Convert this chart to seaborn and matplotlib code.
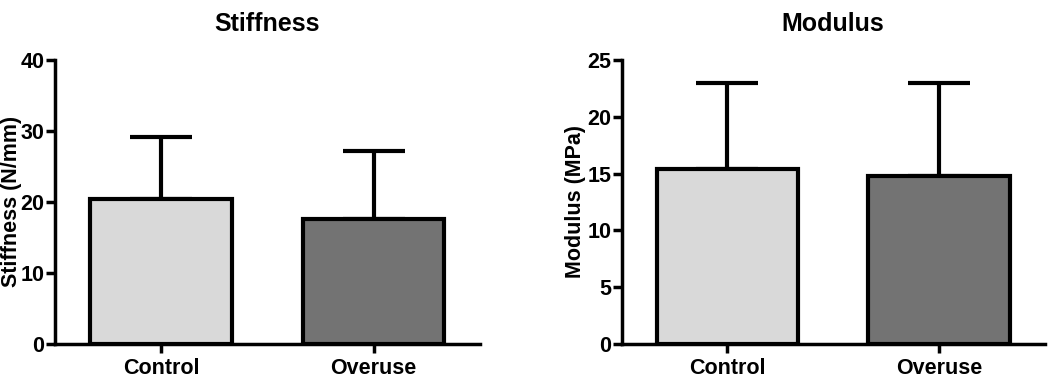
import matplotlib
matplotlib.use("Agg")
import matplotlib.pyplot as plt
import seaborn as sns
import pandas as pd

# Data
groups = ["Control", "Overuse"]
stiffness_mean = [20.4, 17.6]
stiffness_sd = [8.7, 9.5]
modulus_mean = [15.4, 14.8]
modulus_sd = [7.55, 8.2]
bar_colors = ["#d9d9d9", "#737373"]

sns.set_style("ticks", {'axes.edgecolor': 'black', 'text.color': 'black',
                        'axes.labelcolor': 'black', 'xtick.color': 'black',
                        'ytick.color': 'black'})
plt.rcParams['font.family'] = ['Liberation Sans', 'DejaVu Sans']
plt.rcParams['font.weight'] = 'bold'

fig = plt.figure(figsize=(10.5, 3.81), dpi=100)
ax1 = fig.add_axes([0.052, 0.097, 0.405, 0.746])
ax2 = fig.add_axes([0.592, 0.097, 0.403, 0.746])

panels = [
    (ax1, stiffness_mean, stiffness_sd, "Stiffness", "Stiffness (N/mm)", 40, 10, -0.102),
    (ax2, modulus_mean, modulus_sd, "Modulus", "Modulus (MPa)", 25, 5, -0.108),
]

for ax, means, sds, title, ylabel, ymax, step, lx in panels:
    df = pd.DataFrame({'Group': groups, 'Value': means})
    sns.barplot(data=df, x='Group', y='Value', hue='Group', palette=bar_colors,
                width=0.667, edgecolor='black', linewidth=3, legend=False,
                errorbar=None, ax=ax, zorder=2)
    # upper-only error bars
    ax.errorbar(range(len(groups)), means, yerr=[[0] * len(sds), sds],
                fmt='none', ecolor='black', elinewidth=3, capsize=22,
                capthick=3, zorder=1)
    ax.set_xlim(-0.5, 1.5)
    ax.set_ylim(0, ymax)
    ax.set_yticks(range(0, ymax + 1, step))
    ax.set_title(title, fontsize=18, fontweight='bold', pad=21)
    ax.set_ylabel(ylabel, fontsize=15.5, fontweight='bold', va='center')
    ax.yaxis.set_label_coords(lx, 0.5)
    ax.set_xlabel("")
    sns.despine(ax=ax)
    for s in ['left', 'bottom']:
        ax.spines[s].set_linewidth(2.5)
    ax.tick_params(axis='both', width=2.5, length=6.5, labelsize=15.5)
    ax.tick_params(axis='y', pad=1)
    for lbl in ax.get_xticklabels() + ax.get_yticklabels():
        lbl.set_fontweight('bold')

fig.savefig("out.png", dpi=100)
